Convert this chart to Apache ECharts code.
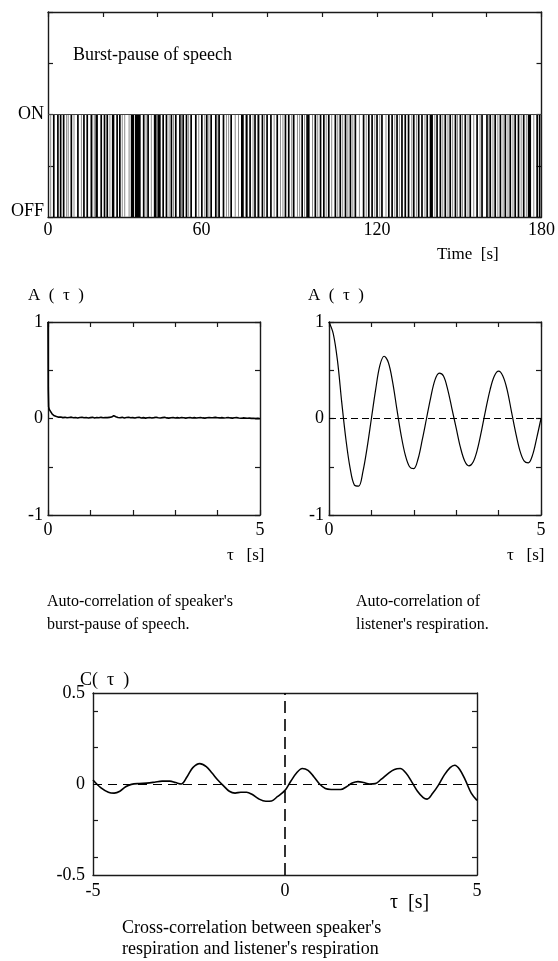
<!DOCTYPE html>
<html>
<head>
<meta charset="utf-8">
<script src="https://cdn.jsdelivr.net/npm/echarts@6/dist/echarts.min.js"></script>
<style>html,body{margin:0;padding:0;background:#fff}#c{width:558px;height:961px}</style>
</head>
<body>
<div id="c"></div>
<script>
// ---------- DATA ----------
// Panel 1: speech burst (ON) intervals, seconds
const burstStart = [1.8,3.3,4.3,5.4,8.2,10.6,12.8,14.0,15.5,17.3,19.1,20.3,21.3,23.3,24.9,25.9,30.2,31.7,34.6,36.2,38.6,39.9,41.7,42.9,44.7,46.3,47.8,49.0,50.2,51.9,53.6,55.8,57.6,59.2,60.9,62.1,63.7,66.5,70.4,72.2,73.4,75.2,76.4,77.9,79.6,81.0,83.3,86.3,87.5,89.3,92.4,94.2,94.8,97.2,99.1,100.3,102.1,104.5,106.3,108.2,110.0,111.8,114.8,116.7,117.9,119.7,121.5,124.0,125.2,127.0,128.8,130.0,131.2,133.1,134.9,136.1,138.0,139.2,141.6,142.8,144.6,146.4,148.3,150.1,151.9,153.7,156.2,158.0,159.8,161.0,162.8,164.7,166.5,168.3,170.1,171.3,173.2,175.0,178.1,179.0];
const burstEnd   = [2.3,3.7,4.8,5.8,8.6,11.1,13.3,14.4,16.2,18.2,19.7,20.7,21.7,24.2,25.3,26.3,31.4,33.8,35.0,36.8,39.6,41.1,42.1,43.5,45.1,46.8,48.2,49.4,50.8,52.3,54.1,56.3,58.0,59.7,61.4,62.6,64.1,67.0,71.4,72.6,74.0,75.6,77.1,78.3,80.0,81.5,83.7,86.7,88.1,89.9,92.8,94.6,95.4,97.6,99.5,100.7,102.5,104.9,106.7,108.6,110.4,112.4,115.2,117.1,118.5,120.1,122.1,124.4,125.8,127.4,129.2,130.4,131.8,133.7,135.5,136.7,138.4,140.4,142.0,143.2,145.0,146.8,148.7,150.5,152.3,154.1,156.8,158.4,160.2,161.4,163.2,165.1,166.9,168.7,170.5,171.7,173.6,176.2,178.5,179.4];
// very short bursts (print as faint grey strokes), seconds
const burstShort = [0.8,6.6,7.2,9.3,12.0,16.7,22.4,26.9,27.8,29.4,35.6,37.5,44.0,45.6,48.5,51.1,54.8,57.0,58.5,61.8,64.9,65.7,68.1,69.3,71.9,74.6,78.8,82.3,84.6,85.5,88.7,90.8,91.6,93.4,96.3,98.2,101.3,103.3,105.5,107.3,109.2,111.0,113.4,115.9,119.0,120.8,123.1,126.3,128.0,132.5,134.2,137.3,140.9,143.8,145.7,147.4,149.2,151.0,153.0,155.1,157.4,160.6,162.1,163.9,165.8,167.6,169.4,172.4,174.3,177.0];
const timeLabels = [0, 60, 120, 180];

// Panel 2: auto-correlation of speaker's burst-pause
const speechHeadLag = [0, 0.006, 0.015, 0.03];
const speechHeadAcf = [1.0, 0.3, 0.12, 0.095];
const speechStep = 0.05; // lag spacing of speechAcf, starting at 0.05 s
const speechAcf = [0.075,0.045,0.028,0.02,0.014,0.016,0.009,0.012,0.007,0.011,0.014,0.008,0.01,0.005,0.011,0.013,0.007,0.01,0.006,0.009,
0.012,0.006,0.01,0.007,0.012,0.008,0.011,0.009,0.012,0.015,0.03,0.018,0.011,0.008,0.012,0.006,0.01,0.013,0.007,0.009,
0.005,0.01,0.012,0.006,0.009,0.004,0.008,0.011,0.006,0.009,0.013,0.007,0.005,0.009,0.012,0.006,0.004,0.008,0.011,0.006,
0.009,0.005,0.01,0.007,0.004,0.008,0.011,0.006,0.009,0.005,0.008,0.01,0.006,0.004,0.008,0.01,0.007,0.009,0.012,0.008,
0.006,0.009,0.005,0.007,0.01,0.006,0.004,0.007,0.009,0.005,0.003,0.006,0.004,0.002,0.004,0.001,0.003,-0.001,0.001,-0.003];

// Panel 3: auto-correlation of listener's respiration (lag step 0.1 s from 0)
const respStep = 0.1;
const respAcf = [1.00,0.88,0.60,0.17,-0.22,-0.52,-0.69,-0.70,-0.55,-0.30,0.00,0.30,0.55,0.645,0.58,0.38,0.10,-0.17,-0.38,-0.50,
-0.52,-0.42,-0.22,0.00,0.22,0.40,0.47,0.44,0.30,0.10,-0.10,-0.30,-0.44,-0.49,-0.45,-0.32,-0.12,0.10,0.30,0.44,
0.49,0.44,0.30,0.08,-0.14,-0.33,-0.44,-0.46,-0.38,-0.20,0.00];

// Panel 4: cross-correlation
const crossLag = [-5.0,-4.8,-4.6,-4.45,-4.3,-4.15,-4.0,-3.8,-3.6,-3.4,-3.2,-3.0,-2.85,-2.7,-2.55,-2.4,-2.22,-2.05,-1.9,-1.75,-1.6,-1.45,-1.3,-1.15,-1.0,-0.85,-0.7,-0.5,-0.35,-0.2,0.0,0.15,0.3,0.45,0.6,0.75,0.9,1.05,1.2,1.45,1.6,1.75,1.9,2.05,2.2,2.35,2.5,2.7,2.85,3.0,3.15,3.3,3.45,3.6,3.7,3.85,4.0,4.15,4.3,4.42,4.55,4.7,4.85,5.0];
const crossVal = [0.022,-0.02,-0.045,-0.05,-0.04,-0.015,-0.002,0.003,0.005,0.01,0.016,0.016,0.008,0.0,0.04,0.09,0.112,0.095,0.06,0.022,-0.01,-0.04,-0.05,-0.045,-0.045,-0.058,-0.08,-0.095,-0.093,-0.07,-0.035,0.015,0.06,0.085,0.075,0.04,0.0,-0.025,-0.03,-0.03,-0.015,0.005,0.013,0.008,0.0,0.002,0.025,0.06,0.08,0.085,0.06,0.012,-0.04,-0.075,-0.083,-0.05,-0.005,0.05,0.09,0.103,0.08,0.02,-0.05,-0.09];

// ---------- BUILD ----------
const serif = '"Liberation Serif","Times New Roman",serif';
const AX = '#1a1a1a';
const burstData = burstStart.map((s, i) => [s, burstEnd[i]]);
const shortData = burstShort.map(s => [s, s]);
const speechData = speechHeadLag.map((t, i) => [t, speechHeadAcf[i]])
  .concat(speechAcf.map((v, i) => [+(speechStep * (i + 1)).toFixed(3), v]));
const respData = respAcf.map((v, i) => [+(respStep * i).toFixed(2), v]);
const crossData = crossLag.map((t, i) => [t, crossVal[i]]);

const grids = [
  {left: 48, top: 12, width: 494, height: 205},
  {left: 48, top: 322, width: 212, height: 193},
  {left: 329, top: 322, width: 212, height: 193},
  {left: 93, top: 693, width: 384, height: 182}
];

function lineOf(w){ return {show: true, onZero: false, lineStyle: {color: AX, width: w || 1.4}}; }
function ticks(show, custom){ const t = {show: show, inside: true, length: 5, lineStyle: {color: AX, width: 1.2}}; if (custom) t.customValues = custom; return t; }
function labelsAt(vals, margin, extra){
  return Object.assign({show: true, margin: margin, fontFamily: serif, fontSize: 18, color: '#000',
    formatter: v => vals.some(x => Math.abs(x - v) < 1e-6) ? String(v) : ''}, extra || {});
}

const xAxis = [], yAxis = [];
// grid 0
xAxis.push({gridIndex: 0, type: 'value', min: 0, max: 180, interval: 20, position: 'bottom', axisLine: lineOf(), axisTick: ticks(false), splitLine: {show: false},
  axisLabel: {show: true, margin: 4, fontFamily: serif, fontSize: 18, color: '#000',
    formatter: v => timeLabels.indexOf(v) < 0 ? '' : (v === 60 ? '{sh|60}' : String(v)),
    rich: {sh: {fontFamily: serif, fontSize: 18, color: '#000', padding: [0, 22, 0, 0]}}}});
xAxis.push({gridIndex: 0, type: 'value', min: 0, max: 180, interval: 20, position: 'top', axisLine: lineOf(), axisTick: ticks(true), splitLine: {show: false}, axisLabel: {show: false}});
yAxis.push({gridIndex: 0, type: 'value', min: 0, max: 2, interval: 0.5, position: 'left', axisLine: lineOf(), axisTick: ticks(true), splitLine: {show: false},
  axisLabel: {show: true, margin: 4, fontFamily: serif, fontSize: 18, color: '#000',
    formatter: v => v === 1 ? '{on|ON}' : (v === 0 ? '{off|OFF}' : ''),
    rich: {on: {fontFamily: serif, fontSize: 18, color: '#000'}, off: {fontFamily: serif, fontSize: 18, color: '#000', padding: [0, 0, 12, 0]}}}});
yAxis.push({gridIndex: 0, type: 'value', min: 0, max: 2, interval: 0.5, position: 'right', axisLine: lineOf(), axisTick: ticks(true), splitLine: {show: false}, axisLabel: {show: false}});
// grids 1,2
[1, 2].forEach(g => {
  xAxis.push({gridIndex: g, type: 'value', min: 0, max: 5, interval: 1, position: 'bottom', axisLine: lineOf(), axisTick: ticks(true), splitLine: {show: false}, axisLabel: labelsAt([0, 5], 6)});
  xAxis.push({gridIndex: g, type: 'value', min: 0, max: 5, interval: 1, position: 'top', axisLine: lineOf(), axisTick: ticks(true), splitLine: {show: false}, axisLabel: {show: false}});
  yAxis.push({gridIndex: g, type: 'value', min: -1, max: 1, interval: 0.5, position: 'left', axisLine: lineOf(), axisTick: ticks(true), splitLine: {show: false}, axisLabel: labelsAt([-1, 0, 1], 5)});
  yAxis.push({gridIndex: g, type: 'value', min: -1, max: 1, interval: 0.5, position: 'right', axisLine: lineOf(), axisTick: ticks(true), splitLine: {show: false}, axisLabel: {show: false}});
});
// grid 3
xAxis.push({gridIndex: 3, type: 'value', min: -5, max: 5, interval: 5, position: 'bottom', axisLine: lineOf(), axisTick: ticks(false), splitLine: {show: false}, axisLabel: labelsAt([-5, 0, 5], 7)});
xAxis.push({gridIndex: 3, type: 'value', min: -5, max: 5, interval: 5, position: 'top', axisLine: lineOf(), axisTick: ticks(false), splitLine: {show: false}, axisLabel: {show: false}});
yAxis.push({gridIndex: 3, type: 'value', min: -0.5, max: 0.5, interval: 0.5, position: 'left', axisLine: lineOf(), axisTick: ticks(true, [-0.4, -0.2, 0.2, 0.4]), splitLine: {show: false}, axisLabel: labelsAt([-0.5, 0, 0.5], 8)});
yAxis.push({gridIndex: 3, type: 'value', min: -0.5, max: 0.5, interval: 0.5, position: 'right', axisLine: lineOf(), axisTick: ticks(true, [-0.4, -0.2, 0.2, 0.4]), splitLine: {show: false}, axisLabel: {show: false}});

function burstRender(minW, color){
  return function (params, api) {
    const p0 = api.coord([api.value(0), 1]);
    const p1 = api.coord([api.value(1), 0]);
    return {type: 'rect', shape: {x: p0[0], y: p0[1], width: Math.max(minW, p1[0] - p0[0]), height: p1[1] - p0[1]}, style: {fill: color}};
  };
}

const series = [
  {type: 'custom', xAxisIndex: 0, yAxisIndex: 0, data: shortData, dimensions: ['start', 'end'], encode: {x: ['start', 'end']}, silent: true, renderItem: burstRender(1, '#8a8a8a')},
  {type: 'custom', xAxisIndex: 0, yAxisIndex: 0, data: burstData, dimensions: ['start', 'end'], encode: {x: ['start', 'end']}, silent: true, renderItem: burstRender(1.7, '#000')},
  {type: 'line', xAxisIndex: 0, yAxisIndex: 0, data: [[0, 1], [180, 1]], symbol: 'none', lineStyle: {color: '#444', width: 1.2}, silent: true},
  {type: 'line', xAxisIndex: 2, yAxisIndex: 2, data: speechData, symbol: 'none', lineStyle: {color: '#000', width: 1.6}, silent: true},
  {type: 'line', xAxisIndex: 4, yAxisIndex: 4, data: respData, symbol: 'none', smooth: 0.35, lineStyle: {color: '#000', width: 1.2}, silent: true,
    markLine: {silent: true, symbol: 'none', label: {show: false}, lineStyle: {color: '#000', type: [7, 4], width: 1.1}, data: [{yAxis: 0}]}},
  {type: 'line', xAxisIndex: 6, yAxisIndex: 6, data: crossData, symbol: 'none', smooth: 0.35, lineStyle: {color: '#000', width: 1.6}, silent: true,
    markLine: {silent: true, symbol: 'none', label: {show: false}, data: [
      {yAxis: 0, lineStyle: {color: '#000', type: [9, 6], width: 1.2}},
      {xAxis: 0, lineStyle: {color: '#000', type: [12, 6], width: 1.6}}]}}
];

function txt(t, x, y, size, extra){
  return {type: 'text', x: x, y: y, silent: true, style: Object.assign({text: t, font: size + 'px ' + serif, fill: '#000', verticalAlign: 'middle', align: 'left'}, extra || {})};
}
const graphic = [
  txt('Burst-pause of speech', 73, 55, 18),
  txt('Time  [s]', 437, 255, 17),
  txt('A  (  τ  )', 28, 296, 17),
  txt('A  (  τ  )', 308, 296, 17),
  txt('τ   [s]', 227, 556, 17),
  txt('τ   [s]', 507, 556, 17),
  txt("Auto-correlation of speaker's", 47, 602, 16),
  txt('burst-pause of speech.', 47, 625, 16),
  txt('Auto-correlation of', 356, 602, 16),
  txt("listener's respiration.", 356, 625, 16),
  txt('C(  τ  )', 80, 680, 18),
  txt('τ  [s]', 390, 903, 20),
  txt("Cross-correlation between speaker's", 122, 928, 18),
  txt("respiration and listener's respiration", 122, 949, 18)
];

const chart = echarts.init(document.getElementById('c'), null, {renderer: 'canvas'});
chart.setOption({animation: false, backgroundColor: '#fff', grid: grids, xAxis: xAxis, yAxis: yAxis, series: series, graphic: graphic});
</script>
</body>
</html>
